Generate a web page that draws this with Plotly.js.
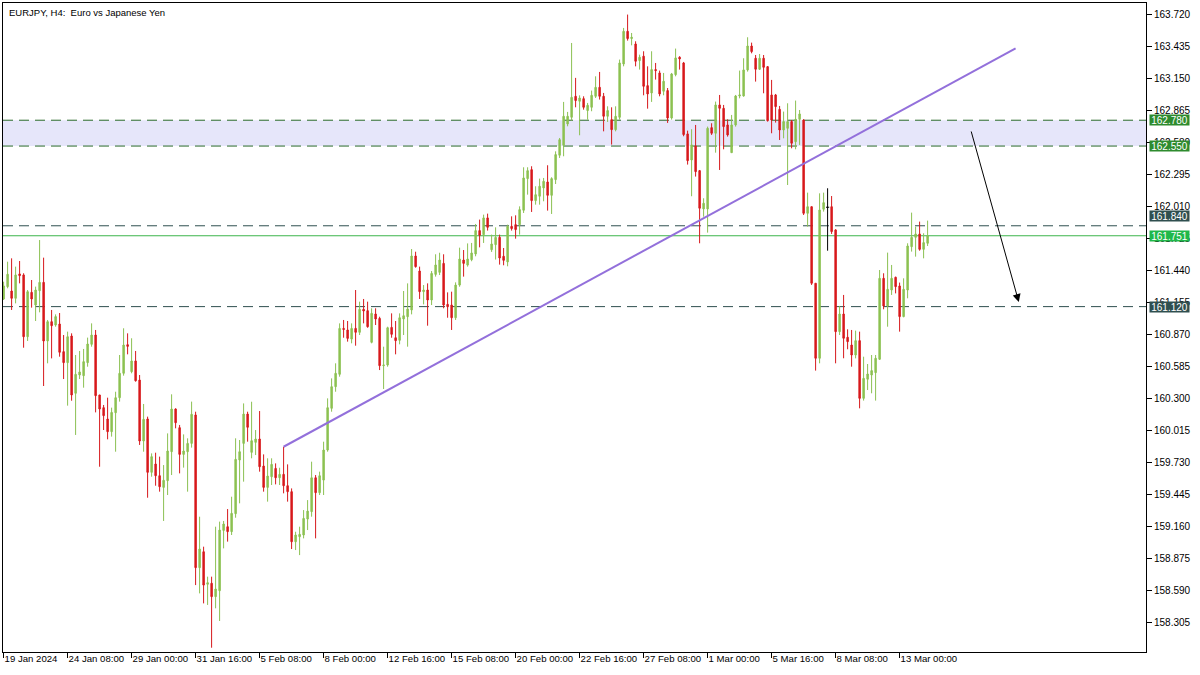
<!DOCTYPE html>
<html>
<head>
<meta charset="utf-8">
<script src="https://cdn.plot.ly/plotly-3.0.1.min.js"></script>
<style>
  html, body { margin: 0; padding: 0; background: #ffffff; }
  #chart { width: 1200px; height: 675px; }
</style>
</head>
<body>
<div id="chart"></div>
<script>
// ---- Chart data: EURJPY H4 candles (bar index 0 = 19 Jan 2024 16:00) ----
const opens = [
161.188,161.298,161.259,161.194,161.411,161.402,160.852,161.247,161.134,161.262,
161.336,160.814,160.986,160.956,160.965,160.719,160.621,160.858,160.348,160.511,
160.505,160.621,160.784,160.867,160.333,160.220,160.119,160.006,160.175,160.309,
160.526,160.781,160.541,160.636,160.466,159.923,160.119,159.644,159.718,159.614,
159.510,159.570,159.828,160.208,160.042,159.804,159.828,159.902,160.155,158.795,
158.937,158.647,158.656,158.537,158.590,159.127,159.160,159.116,159.276,159.754,
159.902,160.163,159.822,159.911,159.941,159.700,159.510,159.605,159.679,159.596,
159.626,159.525,159.472,159.026,159.071,159.086,159.228,159.294,159.596,159.463,
159.575,159.843,160.214,160.407,160.517,160.926,160.912,160.831,160.926,160.891,
161.096,161.084,160.802,161.054,161.015,160.594,160.600,160.935,160.843,160.820,
161.010,161.030,161.090,161.571,161.437,161.253,161.268,161.179,161.407,161.425,
161.505,161.140,161.134,161.021,161.312,161.535,161.490,161.538,161.589,161.797,
161.761,161.910,161.627,161.672,161.737,161.568,161.518,161.835,161.850,161.850,
161.978,162.260,162.340,162.064,162.103,162.177,162.230,162.111,162.251,162.468,
162.557,162.747,162.806,162.993,162.949,162.972,162.866,162.895,162.993,163.073,
162.993,162.815,162.785,162.696,162.806,163.281,163.572,163.507,163.459,163.311,
163.350,163.088,163.023,163.231,163.201,163.038,163.044,162.800,163.186,163.341,
163.290,162.658,162.426,162.551,162.331,161.990,161.990,162.714,162.664,162.916,
162.886,162.738,162.491,162.738,162.996,162.996,163.228,163.441,163.332,163.234,
163.332,163.257,163.005,163.005,162.877,162.693,162.708,162.768,162.589,162.788,
162.782,161.951,162.010,161.328,160.660,161.987,162.005,162.010,161.803,160.897,
161.054,160.847,160.778,160.689,160.817,160.303,160.473,160.511,160.532,160.651,
161.372,161.126,161.268,161.381,161.304,161.031,161.268,161.654,161.737,161.767,
161.630,161.684
];
const highs = [
161.342,161.520,161.550,161.476,161.526,161.417,161.268,161.357,161.298,161.713,
161.556,161.001,161.090,161.051,161.063,160.867,160.897,160.882,160.689,160.725,
160.743,160.844,160.971,160.912,160.333,160.244,160.309,160.220,160.362,160.689,
160.927,160.882,160.838,160.725,160.511,160.253,160.140,159.813,159.819,159.784,
159.709,159.991,160.339,160.214,160.066,159.982,159.947,160.274,160.184,159.249,
158.982,158.715,158.715,159.160,159.205,159.211,159.317,159.427,159.947,159.932,
160.258,160.184,160.273,160.021,160.190,159.804,159.769,159.769,159.724,159.685,
159.872,159.715,159.501,159.115,159.160,159.308,159.397,159.739,159.620,159.650,
159.917,160.303,160.481,160.615,160.971,161.001,160.992,160.971,161.268,161.164,
161.188,161.164,161.105,161.105,161.030,160.763,160.941,161.060,160.992,161.060,
161.259,161.327,161.633,161.609,161.476,161.312,161.327,161.437,161.586,161.600,
161.586,161.247,161.253,161.336,161.645,161.624,161.683,161.687,161.856,161.895,
161.939,161.948,161.761,161.826,161.761,161.642,161.850,161.924,161.933,162.013,
162.361,162.361,162.370,162.192,162.260,162.266,162.379,162.272,162.503,162.622,
162.943,162.854,163.468,163.157,163.002,162.993,162.934,163.044,163.171,163.210,
163.023,162.904,162.895,162.904,163.320,163.602,163.721,163.557,163.483,163.364,
163.394,163.260,163.394,163.290,163.222,163.201,163.067,163.201,163.418,163.350,
163.299,162.687,162.700,162.738,162.337,162.085,162.723,162.753,162.946,163.005,
162.916,162.788,162.827,163.005,163.222,163.332,163.519,163.471,163.361,163.370,
163.361,163.263,163.139,163.014,162.907,162.857,162.931,162.782,162.955,162.871,
162.788,162.135,162.010,161.328,162.129,162.135,162.174,162.105,161.809,161.126,
161.224,160.918,160.912,160.906,160.897,160.674,160.609,160.689,160.689,161.446,
161.417,161.601,161.491,161.387,161.334,161.372,161.684,161.957,161.832,161.877,
161.773,161.886
];
const lows = [
161.179,161.283,161.090,161.149,161.327,160.754,160.814,161.111,160.992,161.069,
160.413,160.615,160.659,160.941,160.674,160.475,160.238,160.282,159.977,160.475,
160.398,160.585,160.763,160.178,159.694,160.021,159.938,159.962,159.828,160.274,
160.505,160.695,160.526,160.452,159.888,159.828,159.418,159.605,159.525,159.472,
159.211,159.442,159.620,160.036,159.635,159.686,159.472,159.864,158.640,158.566,
158.477,158.463,158.082,158.433,158.320,158.967,159.027,159.086,159.240,159.368,
159.561,159.917,159.769,159.798,159.650,159.472,159.383,159.531,159.537,159.531,
159.457,159.383,158.961,158.952,158.907,159.056,159.130,159.249,159.056,159.442,
159.442,159.828,160.184,160.362,160.496,160.843,160.808,160.793,160.772,160.867,
160.971,160.932,160.793,160.956,160.555,160.386,160.585,160.843,160.695,160.784,
160.867,160.763,161.051,161.467,161.188,161.140,160.950,161.134,161.387,161.401,
161.105,161.021,160.912,161.001,161.297,161.387,161.476,161.524,161.568,161.648,
161.687,161.797,161.607,161.539,161.494,161.488,161.479,161.797,161.725,161.761,
161.954,162.117,161.963,162.028,162.028,162.058,161.975,161.945,162.212,162.444,
162.459,162.726,162.777,162.895,162.646,162.874,162.785,162.860,162.978,162.964,
162.681,162.765,162.563,162.681,162.785,163.260,163.489,163.447,163.260,163.231,
163.002,162.883,162.943,163.142,162.993,163.002,162.756,162.785,163.171,163.231,
162.637,162.385,162.103,162.278,161.684,161.921,161.779,162.649,162.491,162.337,
162.521,162.634,162.491,162.723,162.975,162.990,163.213,163.376,163.124,163.228,
163.020,162.768,162.664,162.759,162.604,162.619,162.203,162.530,162.521,162.560,
161.936,161.832,161.313,160.550,160.615,161.966,161.618,161.767,160.615,160.867,
160.660,160.740,160.585,160.659,160.214,160.283,160.377,160.348,160.283,160.645,
161.096,160.941,161.224,161.238,160.897,161.025,161.194,161.610,161.565,161.618,
161.550,161.660
];
const closes = [
161.304,161.408,161.194,161.402,161.396,160.852,161.253,161.188,161.268,161.336,
160.814,160.986,160.950,161.031,160.713,160.621,160.852,160.333,160.517,160.538,
160.630,160.787,160.867,160.327,160.208,160.149,160.006,160.178,160.309,160.526,
160.778,160.766,160.636,160.460,159.923,160.116,159.644,159.784,159.614,159.516,
159.573,159.834,160.208,160.086,159.804,159.834,159.902,160.161,158.795,158.961,
158.640,158.661,158.537,158.605,159.130,159.184,159.116,159.279,159.760,159.828,
160.163,160.045,159.926,159.941,159.694,159.510,159.611,159.715,159.596,159.626,
159.525,159.472,159.026,159.086,159.092,159.234,159.299,159.596,159.463,159.614,
159.843,160.220,160.407,160.526,160.926,160.917,160.837,160.926,160.891,161.096,
161.081,160.941,161.060,161.010,160.594,160.600,160.932,160.873,160.817,161.021,
161.039,161.099,161.571,161.476,161.253,161.268,161.179,161.416,161.491,161.535,
161.134,161.119,161.021,161.312,161.544,161.505,161.544,161.598,161.797,161.755,
161.910,161.826,161.678,161.737,161.553,161.532,161.835,161.815,161.806,161.984,
162.266,162.331,162.064,162.117,162.192,162.236,162.111,162.260,162.474,162.607,
162.815,162.815,162.984,162.955,162.978,162.895,162.913,163.002,163.073,162.993,
162.815,162.866,162.696,162.815,163.290,163.572,163.507,163.519,163.305,163.341,
163.082,163.014,163.231,163.222,163.014,163.127,162.800,163.192,163.335,163.326,
162.652,162.420,162.560,162.322,161.996,162.040,162.708,162.664,162.916,162.886,
162.723,162.649,162.738,162.996,163.005,163.228,163.441,163.391,163.234,163.332,
163.251,162.776,162.782,162.901,162.693,162.768,162.768,162.575,162.788,162.836,
161.951,162.010,161.328,160.660,161.981,162.046,162.005,161.788,160.897,161.054,
160.838,160.808,160.689,160.817,160.303,160.481,160.520,160.550,160.660,161.372,
161.126,161.274,161.372,161.298,161.031,161.274,161.660,161.737,161.767,161.630,
161.690,161.751
];
const dojiBar = 206;

// x-axis time labels every 16 bars
const timeTickBars = [0,16,32,48,64,80,96,112,128,144,160,176,192,208,224];
const timeTickLabels = ["19 Jan 2024","24 Jan 08:00","29 Jan 00:00","31 Jan 16:00","5 Feb 08:00",
  "8 Feb 00:00","12 Feb 16:00","15 Feb 08:00","20 Feb 00:00","22 Feb 16:00","27 Feb 08:00",
  "1 Mar 00:00","5 Mar 16:00","8 Mar 08:00","13 Mar 00:00"];

// price axis labels
const priceTicks = [163.720,163.435,163.150,162.865,162.580,162.295,162.010,161.725,161.440,
  161.155,160.870,160.585,160.300,160.015,159.730,159.445,159.160,158.875,158.590,158.305];

// horizontal levels
const zoneTop = 162.780;
const zoneBottom = 162.550;
const resistanceLevel = 161.840;
const bidLevel = 161.751;
const supportLevel = 161.120;

// drawn objects (bar index, price)
const trendStart = [70, 159.872];
const trendEnd = [253, 163.420];
const arrowFrom = [241.8, 162.693];
const arrowTo = [253.8, 161.161];

// ---- styles ----
const GREEN = '#8cc152';
const RED = '#d7191c';
const ZONE_LINE = '#2a6a2a';
const ZONE_TAG = '#2e8b2e';
const SLATE = '#2f4f4f';
const BID = '#3cb44b';
const BID_TAG = '#20b84a';
const FONT = 'Liberation Sans, Arial, sans-serif';

const idx = opens.map((_, k) => k);
const mask = (arr) => arr.map((v, k) => (k === dojiBar ? null : v));

const candles = {
  type: 'candlestick',
  x: idx,
  open: mask(opens), high: mask(highs), low: mask(lows), close: mask(closes),
  increasing: { line: { color: GREEN, width: 1 }, fillcolor: GREEN },
  decreasing: { line: { color: RED, width: 1 }, fillcolor: RED },
  whiskerwidth: 0,
  hoverinfo: 'skip',
  showlegend: false
};

const doji = {
  type: 'scatter', mode: 'lines',
  x: [dojiBar, dojiBar, null, dojiBar - 0.4, dojiBar + 0.4],
  y: [highs[dojiBar], lows[dojiBar], null, opens[dojiBar], closes[dojiBar]],
  line: { color: '#000000', width: 1 },
  hoverinfo: 'skip', showlegend: false
};

const dashed = '10px,6px';
const shapes = [
  { type: 'rect', xref: 'paper', x0: 0, x1: 1, yref: 'y', y0: zoneBottom, y1: zoneTop,
    fillcolor: '#e6e6fa', line: { width: 0 }, layer: 'below' },
  { type: 'line', xref: 'paper', x0: 0, x1: 1, yref: 'y', y0: zoneTop, y1: zoneTop,
    line: { color: ZONE_LINE, width: 1, dash: dashed }, layer: 'below' },
  { type: 'line', xref: 'paper', x0: 0, x1: 1, yref: 'y', y0: zoneBottom, y1: zoneBottom,
    line: { color: ZONE_LINE, width: 1, dash: dashed }, layer: 'below' },
  { type: 'line', xref: 'paper', x0: 0, x1: 1, yref: 'y', y0: resistanceLevel, y1: resistanceLevel,
    line: { color: SLATE, width: 1, dash: dashed }, layer: 'below' },
  { type: 'line', xref: 'paper', x0: 0, x1: 1, yref: 'y', y0: supportLevel, y1: supportLevel,
    line: { color: SLATE, width: 1, dash: dashed }, layer: 'below' },
  { type: 'line', xref: 'paper', x0: 0, x1: 1, yref: 'y', y0: bidLevel, y1: bidLevel,
    line: { color: BID, width: 1 }, layer: 'below' },
  { type: 'line', xref: 'x', yref: 'y', x0: trendStart[0], y0: trendStart[1], x1: trendEnd[0], y1: trendEnd[1],
    line: { color: '#9370db', width: 2 }, layer: 'above' }
];

function tag(level, color, shift) {
  return {
    xref: 'paper', x: 1, xanchor: 'left', xshift: 3,
    yref: 'y', y: level, yanchor: 'middle', yshift: shift || 0,
    text: level.toFixed(3), showarrow: false,
    bgcolor: color, font: { color: '#ffffff', size: 10, family: FONT },
    borderpad: 0, width: 39, height: 10, align: 'center'
  };
}

const annotations = [
  { xref: 'paper', yref: 'paper', x: 0, y: 1, xanchor: 'left', yanchor: 'top', xshift: 4, yshift: -2,
    text: 'EURJPY, H4:  Euro vs Japanese Yen', showarrow: false,
    font: { size: 9.5, color: '#000000', family: FONT } },
  { xref: 'x', yref: 'y', axref: 'x', ayref: 'y',
    x: arrowTo[0], y: arrowTo[1], ax: arrowFrom[0], ay: arrowFrom[1],
    text: '', showarrow: true, arrowhead: 2, arrowsize: 1.6, arrowwidth: 1, arrowcolor: '#000000' },
  tag(zoneTop, ZONE_TAG),
  tag(zoneBottom, ZONE_TAG),
  tag(supportLevel, SLATE),
  tag(bidLevel, BID_TAG),
  tag(resistanceLevel, SLATE, 10)
];

const layout = {
  width: 1200, height: 675,
  margin: { l: 3, r: 54, t: 3, b: 23, pad: 0 },
  paper_bgcolor: '#ffffff', plot_bgcolor: '#ffffff',
  font: { family: FONT, size: 10, color: '#000000' },
  showlegend: false,
  boxgap: 0.5,
  xaxis: {
    range: [-0.15, 285.6],
    rangeslider: { visible: false },
    showgrid: false, zeroline: false,
    showline: true, mirror: true, linecolor: '#000000', linewidth: 1,
    ticks: 'outside', ticklen: 5, tickcolor: '#000000', tickwidth: 1,
    tickmode: 'array', tickvals: timeTickBars, ticktext: timeTickLabels,
    tickangle: 0,
    ticklabelposition: 'outside right',
    ticklabelstandoff: -3,
    tickfont: { size: 9.6, family: FONT, color: '#000000' },
    fixedrange: true
  },
  yaxis: {
    range: [158.044, 163.824],
    side: 'right',
    showgrid: false, zeroline: false,
    showline: true, mirror: true, linecolor: '#000000', linewidth: 1,
    ticks: 'outside', ticklen: 5, tickcolor: '#000000', tickwidth: 1,
    tickmode: 'array', tickvals: priceTicks, ticktext: priceTicks.map(v => v.toFixed(3)),
    tickfont: { size: 10, family: FONT, color: '#000000' },
    fixedrange: true
  },
  shapes: shapes,
  annotations: annotations
};

Plotly.newPlot('chart', [candles, doji], layout, { displayModeBar: false, staticPlot: true });
</script>
</body>
</html>
